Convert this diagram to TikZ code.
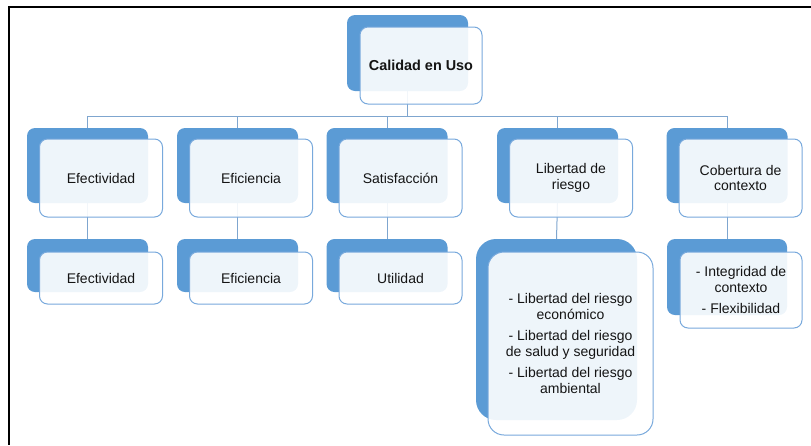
\documentclass[tikz,border=0pt]{standalone}
\usepackage{fontspec}
\setmainfont{Liberation Sans}
\usetikzlibrary{backgrounds}
\definecolor{backblue}{HTML}{5B9BD5}
\definecolor{edgeblue}{HTML}{78A9DC}
\definecolor{linkblue}{HTML}{7FA6CF}
\tikzset{
  backbox/.style={draw=none, fill=backblue, rounded corners=8pt, inner sep=0pt},
  frontbox/.style={draw=edgeblue, line width=1pt, fill=white, fill opacity=0.9, text opacity=1,
     rounded corners=8pt, inner sep=2pt, align=center, text=black!92,
     font=\fontsize{14}{15.5}\selectfont},
  link/.style={draw=linkblue, line width=1pt},
  frameline/.style={draw=black, line width=2pt}
}
\begin{document}
\begin{tikzpicture}[x=1pt,y=-1pt]
\useasboundingbox (0,0) rectangle (811,445);
\draw[frameline] (8,7) -- (811,7);
\draw[frameline] (9,6) -- (9,445);

% root
\node[backbox, minimum width=121pt, minimum height=76pt] (rb) at (407.5,53) {};
\node[frontbox, minimum width=122pt, minimum height=77pt, font=\fontsize{14.4}{15.5}\selectfont\bfseries] (r) at (421,65.5) {Calidad en Uso};

% level 1
\foreach \nm/\bx/\txt in {e/87.5/Efectividad, f/237.5/Eficiencia, s/387/Satisfacción, l/557.5/{Libertad de\\riesgo}, c/727/{Cobertura de\\contexto}}{
  \node[backbox, minimum width=121pt, minimum height=75pt] (\nm b) at (\bx,165.5) {};
  \node[frontbox, minimum width=123pt, minimum height=78pt] (\nm) at (\bx+13.5,178) {\txt};
}

% level 2 small
\foreach \nm/\bx/\txt in {e/87.5/Efectividad, f/237.5/Eficiencia, s/387/Utilidad}{
  \node[backbox, minimum width=121pt, minimum height=53pt] (\nm 2b) at (\bx,265.5) {};
  \node[frontbox, minimum width=123pt, minimum height=52pt] (\nm 2) at (\bx+13.5,278) {\txt};
}

% level 2 libertad
\node[backbox, rounded corners=20pt, minimum width=161pt, minimum height=181pt] (l2b) at (556.5,329.5) {};
\node[frontbox, rounded corners=16pt, minimum width=165pt, minimum height=183pt] (l2) at (570.5,343.5)
  {- Libertad del riesgo\\económico\\[6pt]- Libertad del riesgo\\de salud y seguridad\\[6pt]- Libertad del riesgo\\ambiental};

% level 2 cobertura
\node[backbox, minimum width=120pt, minimum height=76pt] (c2b) at (727,277) {};
\node[frontbox, minimum width=122pt, minimum height=76pt] (c2) at (741,290)
  {- Integridad de\\contexto\\[6pt]- Flexibilidad};

\coordinate (bus) at (0,116);
\begin{scope}[on background layer]
  \foreach \nm in {e,f,s,l,c}{
    \draw[link] (rb.south) -- (rb.south |- bus) -| (\nm b.north);
    \draw[link] (\nm b.south) -- (\nm 2b.north);
  }
\end{scope}
\end{tikzpicture}
\end{document}
